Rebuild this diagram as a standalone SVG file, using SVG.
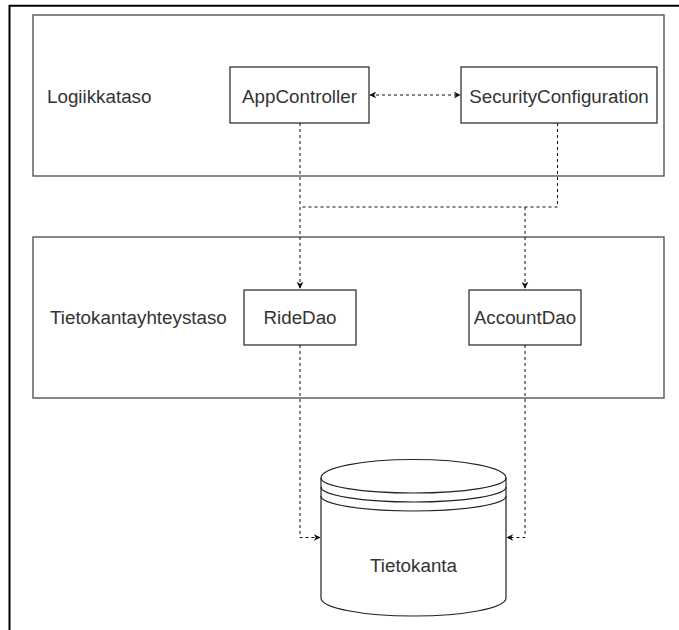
<svg xmlns="http://www.w3.org/2000/svg" width="679" height="630" viewBox="0 0 679 630">
<style>
.layer{fill:#fff;stroke:#555;stroke-width:1.4}
.node{fill:#fff;stroke:#222;stroke-width:1.2}
.t{font-family:"Liberation Sans",Arial,sans-serif;font-size:18.8px;fill:#333}
.c{text-anchor:middle}
.dash{fill:none;stroke:#111;stroke-width:1;stroke-dasharray:3 3}
</style>
<defs>
<marker id="arr" viewBox="0 0 10 10" refX="9" refY="5" markerWidth="7" markerHeight="7" markerUnits="userSpaceOnUse" orient="auto-start-reverse">
<path d="M0,0 L10,5 L0,10 L3,5 Z" fill="#111"/>
</marker>
</defs>
<rect width="679" height="630" fill="#fff"/>
<g id="frame">
<path d="M9.5,630 V5.7 H679" fill="none" stroke="#000" stroke-width="2"/>
</g>
<g id="logiikkataso">
<rect class="layer" x="33" y="15" width="631" height="161"/>
<text class="t" x="47" y="103">Logiikkataso</text>
</g>
<g id="tietokantayhteystaso">
<rect class="layer" x="33" y="237" width="631" height="161"/>
<text class="t" x="50" y="324">Tietokantayhteystaso</text>
</g>
<g id="appcontroller">
<rect class="node" x="230" y="67" width="139" height="56"/>
<text class="t c" x="299.5" y="103">AppController</text>
</g>
<g id="securityconfiguration">
<rect class="node" x="461" y="67" width="196" height="56"/>
<text class="t c" x="559" y="103">SecurityConfiguration</text>
</g>
<g id="ridedao">
<rect class="node" x="244" y="290" width="112" height="55"/>
<text class="t c" x="300" y="324">RideDao</text>
</g>
<g id="accountdao">
<rect class="node" x="469" y="290" width="112" height="55"/>
<text class="t c" x="525" y="324">AccountDao</text>
</g>
<g id="tietokanta">
<path d="M321,478 A92.5,18.5 0 0 1 506,478 V598 A92.5,18 0 0 1 321,598 Z" fill="#fff" stroke="#222" stroke-width="1.2"/>
<path d="M321,478 A92.5,15 0 0 0 506,478" fill="none" stroke="#222" stroke-width="1.2"/>
<path d="M321,487 A92.5,15 0 0 0 506,487" fill="none" stroke="#222" stroke-width="1.2"/>
<path d="M321,496 A92.5,15 0 0 0 506,496" fill="none" stroke="#222" stroke-width="1.2"/>
<text class="t c" x="413.5" y="572">Tietokanta</text>
</g>
<g id="connectors">
<path class="dash" d="M370,95 H460" marker-start="url(#arr)" marker-end="url(#arr)"/>
<path class="dash" d="M300,123 V288" marker-end="url(#arr)"/>
<path class="dash" d="M557.5,123 V207 H300"/>
<path class="dash" d="M525,207 V288" marker-end="url(#arr)"/>
<path class="dash" d="M300,345 V537.5 H320" marker-end="url(#arr)"/>
<path class="dash" d="M525,345 V537.5 H507" marker-end="url(#arr)"/>
</g>
</svg>
